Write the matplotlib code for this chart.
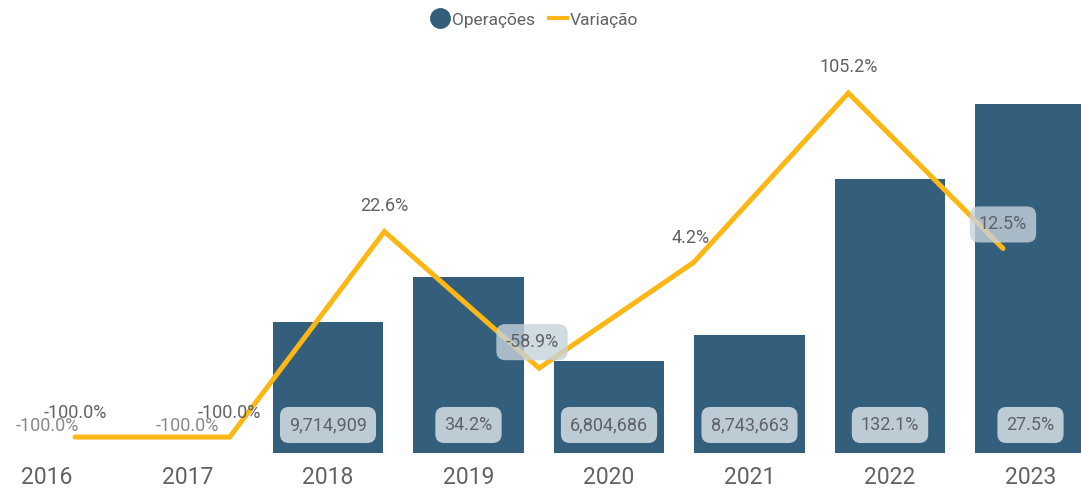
import matplotlib.pyplot as plt
from matplotlib.lines import Line2D

# data
years = ["2016", "2017", "2018", "2019", "2020", "2021", "2022", "2023"]
operacoes = [0, 0, 9714909, 13037410, 6804686, 8743663, 20294042, 25874903]
bar_labels = ["", "", "9,714,909", "34.2%", "6,804,686", "8,743,663", "132.1%", "27.5%"]
variacao = [-100.0, -100.0, 22.6, -58.9, 4.2, 105.2, 12.5]
var_labels = ["-100.0%", "-100.0%", "22.6%", "-58.9%", "4.2%", "105.2%", "12.5%"]

bar_color = "#335f7d"
line_color = "#fdb714"
text_color = "#5f6266"
box_color = "#c6d2db"

plt.rcParams["font.family"] = ["Roboto", "DejaVu Sans"]

W, H = 1081, 488
fig = plt.figure(figsize=(W / 100, H / 100), dpi=100)
rect = [0, 35 / H, 1, 453 / H]

# bars
ax = fig.add_axes(rect)
x = list(range(len(years)))
ax.bar(x, operacoes, width=0.783, color=bar_color, zorder=2)
ax.set_xlim(-47 / 140.5, (W - 47) / 140.5)
ax.set_ylim(0, 453 * 74100)
ax.set_xticks(x)
ax.set_xticklabels(years, fontsize=16.5, color=text_color)
ax.tick_params(axis="x", length=0, pad=9)
ax.set_yticks([])
for s in ax.spines.values():
    s.set_visible(False)

for i, lab in enumerate(bar_labels):
    if lab:
        ax.annotate(lab, (i, 0), xytext=(0, 28), textcoords="offset pixels",
                    ha="center", va="center", fontsize=13, color=text_color,
                    zorder=5,
                    bbox=dict(boxstyle="round,pad=0.5,rounding_size=0.5",
                              fc=box_color, ec="none", alpha=0.95))

# faded labels at the empty bars
for i in [0, 1]:
    ax.annotate("-100.0%", (i, 0), xytext=(0, 27), textcoords="offset pixels",
                ha="center", va="center", fontsize=13, color=text_color,
                alpha=0.75, zorder=1)

# line on its own overlaid axes
ax2 = fig.add_axes(rect, facecolor="none")
lx = list(range(len(variacao)))
ax2.plot(lx, variacao, color=line_color, lw=3.6, solid_capstyle="round",
         solid_joinstyle="miter", zorder=3)
ax2.set_xlim(-75 / 154.67, (W - 75) / 154.67)
ax2.set_ylim(-109.5, 160.7)
ax2.axis("off")

offsets = [(0, 24), (0, 24), (0, 26), (-7, 26), (-3, 24), (0, 26), (0, 24)]
boxed = [False, False, False, True, False, False, True]
for i, (v, lab) in enumerate(zip(variacao, var_labels)):
    kw = {}
    if boxed[i]:
        kw["bbox"] = dict(boxstyle="round,pad=0.5,rounding_size=0.5",
                          fc=box_color, ec="none", alpha=0.8)
    ax2.annotate(lab, (i, v), xytext=offsets[i], textcoords="offset pixels",
                 ha="center", va="center", fontsize=13, color=text_color,
                 zorder=6, **kw)

# legend
handles = [
    Line2D([], [], marker="o", ls="none", ms=14, color=bar_color),
    Line2D([], [], color=line_color, lw=3),
]
leg = fig.legend(handles, ["Operações", "Variação"], loc="center",
                 bbox_to_anchor=(535 / W, 1 - 20 / H), ncol=2, frameon=False,
                 fontsize=12.5, handlelength=1.0, handletextpad=0.2,
                 columnspacing=0.8, labelcolor=text_color)

fig.savefig("out.png", dpi=100)
